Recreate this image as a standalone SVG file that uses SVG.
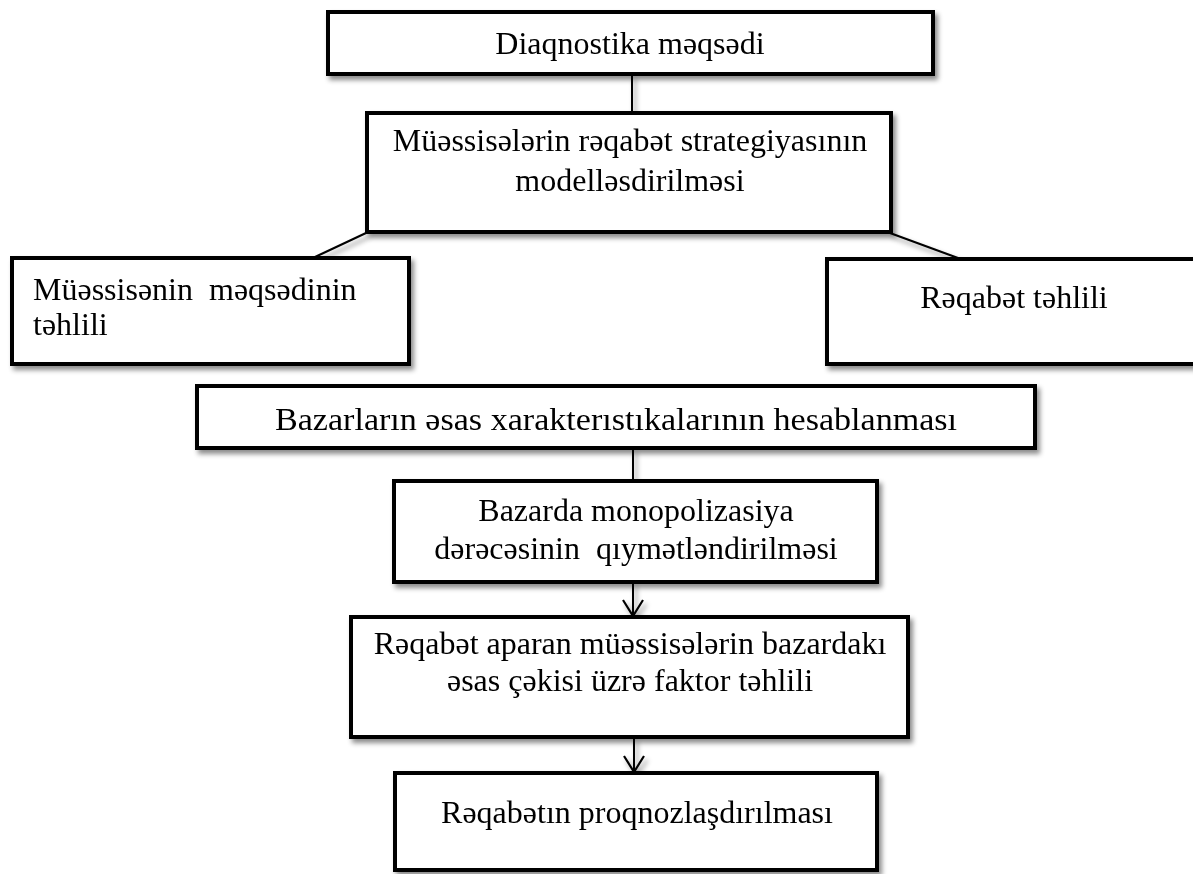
<svg xmlns="http://www.w3.org/2000/svg" width="1193" height="874" viewBox="0 0 1193 874">
  <defs>
    <filter id="shadow" x="-5%" y="-5%" width="115%" height="130%">
      <feDropShadow dx="3" dy="4" stdDeviation="2.5" flood-color="#000" flood-opacity="0.45"/>
    </filter>
    <!-- open V arrowhead, drawn pointing along +x -->
    <marker id="vhead" viewBox="0 0 22 22" refX="20" refY="11" markerWidth="22" markerHeight="22" markerUnits="userSpaceOnUse" orient="auto">
      <path d="M4 1 L20 11 L4 21" fill="none" stroke="#000" stroke-width="2.2"/>
    </marker>
  </defs>
  <style>
    .box { fill: #fff; stroke: #000; stroke-width: 4; }
    .lbl { font-family: "Liberation Serif", "Times New Roman", serif; font-size: 32px; fill: #000; white-space: pre; }
    .mid { text-anchor: middle; }
    .wire { fill: none; stroke: #000; stroke-width: 2; }
  </style>
  <rect width="1193" height="874" fill="#fff"/>

  <!-- connectors -->
  <g id="connectors" filter="url(#shadow)">
    <line class="wire" x1="632" y1="75" x2="632" y2="112"/>
    <line class="wire" x1="366" y1="233" x2="315" y2="257"/>
    <line class="wire" x1="890" y1="233" x2="958" y2="258"/>
    <line class="wire" x1="633" y1="449" x2="633" y2="480"/>
    <line class="wire" x1="633" y1="583" x2="633" y2="616" marker-end="url(#vhead)"/>
    <line class="wire" x1="634" y1="738" x2="634" y2="772" marker-end="url(#vhead)"/>
  </g>

  <g id="goal" filter="url(#shadow)">
    <rect class="box" x="328" y="12" width="605" height="62"/>
    <text class="lbl mid" x="630" y="54">Diaqnostika məqsədi</text>
  </g>

  <g id="modelling" filter="url(#shadow)">
    <rect class="box" x="367" y="113" width="524" height="119"/>
    <text class="lbl mid" x="630" y="151">Müəssisələrin rəqabət strategiyasının</text>
    <text class="lbl mid" x="630" y="191">modelləsdirilməsi</text>
  </g>

  <g id="aim-analysis" filter="url(#shadow)">
    <rect class="box" x="12" y="258" width="397" height="106"/>
    <text class="lbl" x="33" y="300">Müəssisənin  məqsədinin</text>
    <text class="lbl" x="33" y="335">təhlili</text>
  </g>

  <g id="competition-analysis" filter="url(#shadow)">
    <rect class="box" x="827" y="259" width="374" height="105"/>
    <text class="lbl mid" x="1014" y="308">Rəqabət təhlili</text>
  </g>

  <g id="market-figures" filter="url(#shadow)">
    <rect class="box" x="197" y="386" width="838" height="62"/>
    <text class="lbl" x="275" y="430" textLength="682" lengthAdjust="spacingAndGlyphs">Bazarların əsas xarakterıstıkalarının hesablanması</text>
  </g>

  <g id="monopoly" filter="url(#shadow)">
    <rect class="box" x="394" y="481" width="483" height="101"/>
    <text class="lbl mid" x="636" y="521">Bazarda monopolizasiya</text>
    <text class="lbl mid" x="636" y="559">dərəcəsinin  qıymətləndirilməsi</text>
  </g>

  <g id="factor-analysis" filter="url(#shadow)">
    <rect class="box" x="351" y="617" width="557" height="120"/>
    <text class="lbl mid" x="630" y="654">Rəqabət aparan müəssisələrin bazardakı</text>
    <text class="lbl mid" x="630" y="691">əsas çəkisi üzrə faktor təhlili</text>
  </g>

  <g id="forecast" filter="url(#shadow)">
    <rect class="box" x="395" y="773" width="482" height="97"/>
    <text class="lbl mid" x="637" y="823">Rəqabətın proqnozlaşdırılması</text>
  </g>
</svg>
